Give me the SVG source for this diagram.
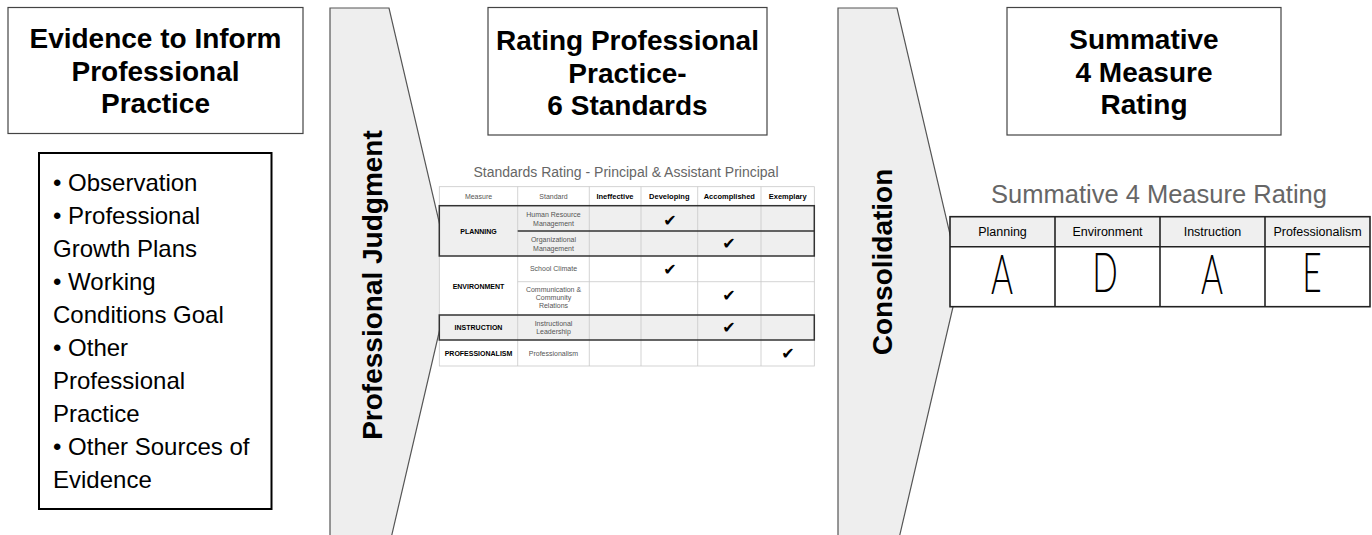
<svg xmlns="http://www.w3.org/2000/svg" width="1372" height="535" viewBox="0 0 1372 535">
<style>
.hdr{fill:#fff;stroke:#444;stroke-width:1.2}
.htxt{font-family:"Liberation Sans",Arial,sans-serif;font-weight:bold;font-size:28px;fill:#000;text-anchor:middle}
.bul{font-family:"Liberation Sans",Arial,sans-serif;font-size:24px;fill:#000}
.chev{fill:#eeeeee;stroke:#555;stroke-width:1.2}
.vtxt{font-family:"Liberation Sans",Arial,sans-serif;font-weight:bold;font-size:28px;fill:#000;text-anchor:middle}
.ttl{font-family:"Liberation Sans",Arial,sans-serif;fill:#666;text-anchor:middle}
.thin{stroke:#c8c8c8;stroke-width:0.8;fill:none}
.thick{stroke:#333;stroke-width:1.5;fill:none}
.th{font-family:"Liberation Sans",Arial,sans-serif;font-weight:bold;font-size:7.5px;fill:#000;text-anchor:middle}
.tl{font-family:"Liberation Sans",Arial,sans-serif;font-size:7px;fill:#555;text-anchor:middle}
.tm{font-family:"Liberation Sans",Arial,sans-serif;font-weight:bold;font-size:7px;fill:#000;text-anchor:middle}
.ck{font-family:"DejaVu Sans",sans-serif;font-size:16px;fill:#000;text-anchor:middle}
.rh{font-family:"Liberation Sans",Arial,sans-serif;font-size:12.5px;fill:#000;text-anchor:middle}
.hand{font-family:"Lato","Open Sans",sans-serif;font-weight:300;font-size:56px;fill:#000;text-anchor:middle}
</style>

<g id="judgment-arrow">
<polygon class="chev" points="330,8 389,8 452,277 389,547 330,547"/>
<text class="vtxt" transform="translate(382,285) rotate(-90)">Professional Judgment</text>
</g>

<g id="consolidation-arrow">
<polygon class="chev" points="838,8 897,8 960,277 897,547 838,547"/>
<text class="vtxt" transform="translate(892,262) rotate(-90)">Consolidation</text>
</g>

<g id="evidence-header">
<rect class="hdr" x="8" y="7.5" width="295" height="126"/>
<text class="htxt" x="155.5" y="48">Evidence to Inform</text>
<text class="htxt" x="155.5" y="80.5">Professional</text>
<text class="htxt" x="155.5" y="113">Practice</text>
</g>

<g id="evidence-list">
<rect x="39" y="153" width="232.5" height="356" fill="#fff" stroke="#000" stroke-width="2"/>
<text class="bul" x="53" y="191">• Observation</text>
<text class="bul" x="53" y="224">• Professional</text>
<text class="bul" x="53" y="257">Growth Plans</text>
<text class="bul" x="53" y="290">• Working</text>
<text class="bul" x="53" y="323">Conditions Goal</text>
<text class="bul" x="53" y="356">• Other</text>
<text class="bul" x="53" y="389">Professional</text>
<text class="bul" x="53" y="422">Practice</text>
<text class="bul" x="53" y="455">• Other Sources of</text>
<text class="bul" x="53" y="488">Evidence</text>
</g>

<g id="rating-header">
<rect class="hdr" x="488" y="7.5" width="279" height="127.5"/>
<text class="htxt" x="627.5" y="50">Rating Professional</text>
<text class="htxt" x="627.5" y="82.5">Practice-</text>
<text class="htxt" x="627.5" y="115">6 Standards</text>
</g>

<g id="summative-header">
<rect class="hdr" x="1007" y="7.5" width="274" height="127.5"/>
<text class="htxt" x="1144" y="49">Summative</text>
<text class="htxt" x="1144" y="81.5">4 Measure</text>
<text class="htxt" x="1144" y="114">Rating</text>
</g>

<g id="standards-table">
<text class="ttl" x="626" y="177" font-size="14">Standards Rating - Principal &amp; Assistant Principal</text>
<rect x="439.3" y="186.7" width="375" height="179.3" fill="#fff"/>
<rect x="439.3" y="205.7" width="375" height="50.3" fill="#efefef"/>
<rect x="439.3" y="315" width="375" height="25" fill="#efefef"/>
<g class="thin">
<rect x="439.3" y="186.7" width="375" height="179.3"/>
<line x1="517.7" y1="186.7" x2="517.7" y2="366"/>
<line x1="589.3" y1="186.7" x2="589.3" y2="366"/>
<line x1="641" y1="186.7" x2="641" y2="366"/>
<line x1="697.7" y1="186.7" x2="697.7" y2="366"/>
<line x1="761" y1="186.7" x2="761" y2="366"/>
<line x1="517.7" y1="281.7" x2="814.3" y2="281.7"/>
</g>
<g class="thick">
<rect x="439.3" y="205.7" width="375" height="50.3"/>
<line x1="517.7" y1="231" x2="814.3" y2="231"/>
<rect x="439.3" y="315" width="375" height="25"/>
</g>
<text class="tl" x="478.5" y="198.5">Measure</text>
<text class="tl" x="553.5" y="198.5">Standard</text>
<text class="th" x="615" y="198.5">Ineffective</text>
<text class="th" x="669.3" y="198.5">Developing</text>
<text class="th" x="729.3" y="198.5">Accomplished</text>
<text class="th" x="787.7" y="198.5">Exemplary</text>
<text class="tm" x="478.5" y="233.5">PLANNING</text>
<text class="tm" x="478.5" y="288.5">ENVIRONMENT</text>
<text class="tm" x="478.5" y="330">INSTRUCTION</text>
<text class="tm" x="478.5" y="356">PROFESSIONALISM</text>
<text class="tl" x="553.5" y="217">Human Resource</text>
<text class="tl" x="553.5" y="225.5">Management</text>
<text class="tl" x="553.5" y="242">Organizational</text>
<text class="tl" x="553.5" y="250.5">Management</text>
<text class="tl" x="553.5" y="271">School Climate</text>
<text class="tl" x="553.5" y="292">Communication &amp;</text>
<text class="tl" x="553.5" y="300">Community</text>
<text class="tl" x="553.5" y="308">Relations</text>
<text class="tl" x="553.5" y="325.5">Instructional</text>
<text class="tl" x="553.5" y="334">Leadership</text>
<text class="tl" x="553.5" y="356">Professionalism</text>
<text class="ck" x="670" y="226">✔</text>
<text class="ck" x="729" y="249">✔</text>
<text class="ck" x="670" y="275">✔</text>
<text class="ck" x="729" y="301">✔</text>
<text class="ck" x="729" y="332.5">✔</text>
<text class="ck" x="788" y="359">✔</text>
</g>

<g id="summative-table">
<text class="ttl" x="1159" y="203" font-size="25.5">Summative 4 Measure Rating</text>
<rect x="950" y="216.7" width="420" height="30" fill="#efefef"/>
<rect x="950" y="246.7" width="420" height="60" fill="#fff"/>
<g class="thick" style="stroke:#222;stroke-width:1.6">
<rect x="950" y="216.7" width="420" height="90"/>
<line x1="950" y1="246.7" x2="1370" y2="246.7"/>
<line x1="1055" y1="216.7" x2="1055" y2="306.7"/>
<line x1="1160" y1="216.7" x2="1160" y2="306.7"/>
<line x1="1265" y1="216.7" x2="1265" y2="306.7"/>
</g>
<text class="rh" x="1002.5" y="236">Planning</text>
<text class="rh" x="1107.5" y="236">Environment</text>
<text class="rh" x="1212.5" y="236">Instruction</text>
<text class="rh" x="1317.5" y="236">Professionalism</text>
<text class="hand" transform="translate(1002,294) scale(0.6,1)">A</text>
<text class="hand" transform="translate(1105,292) scale(0.6,1)">D</text>
<text class="hand" transform="translate(1212,294) scale(0.6,1)">A</text>
<text class="hand" transform="translate(1312,292) scale(0.6,1)">E</text>
</g>
</svg>
